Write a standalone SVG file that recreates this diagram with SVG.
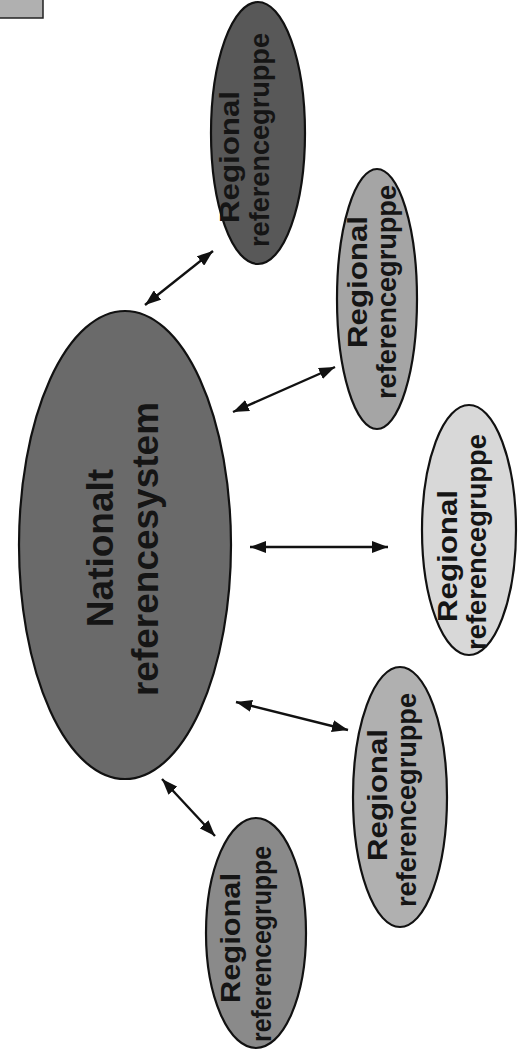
<svg xmlns="http://www.w3.org/2000/svg" width="527" height="1057" viewBox="0 0 527 1057">
<style>
.node ellipse{stroke:#111;stroke-width:2.2}
.big{font-family:"Liberation Sans",Arial,sans-serif;font-weight:bold;font-size:37px;fill:#151515;text-anchor:middle}
.lbl{font-family:"Liberation Sans",Arial,sans-serif;font-weight:bold;font-size:27px;fill:#151515;text-anchor:middle}
.conn line{stroke:#111;stroke-width:2.4;marker-start:url(#ah);marker-end:url(#ah)}
</style>
<defs>
<marker id="ah" viewBox="0 0 16 12" refX="16" refY="6" markerWidth="16" markerHeight="12" markerUnits="userSpaceOnUse" orient="auto-start-reverse">
<path d="M0,0 L16,6 L0,12 z" fill="#111"/>
</marker>
</defs>
<rect width="527" height="1057" fill="#fff"/>
<rect id="corner" x="-1" y="-1" width="44" height="19" fill="#b0b0b0" stroke="#222" stroke-width="1.5"/>
<g id="national" class="node">
<ellipse cx="125" cy="545" rx="106" ry="234" fill="#6a6a6a"/>
<text class="big" transform="translate(113,548) rotate(-90)">Nationalt</text>
<text class="big" transform="translate(158,549) rotate(-90)">referencesystem</text>
</g>
<g id="regional1" class="node">
<ellipse cx="258" cy="133" rx="47" ry="131" fill="#585858"/>
<text class="lbl" transform="translate(239,157) rotate(-90)" textLength="132" lengthAdjust="spacingAndGlyphs">Regional</text>
<text class="lbl" transform="translate(269,140) rotate(-90)" textLength="214" lengthAdjust="spacingAndGlyphs">referencegruppe</text>
</g>
<g id="regional2" class="node">
<ellipse cx="377" cy="299" rx="40" ry="130" fill="#a5a5a5"/>
<text class="lbl" transform="translate(367,282) rotate(-90)" textLength="132" lengthAdjust="spacingAndGlyphs">Regional</text>
<text class="lbl" transform="translate(396,292) rotate(-90)" textLength="214" lengthAdjust="spacingAndGlyphs">referencegruppe</text>
</g>
<g id="regional3" class="node">
<ellipse cx="469" cy="530" rx="47" ry="125" fill="#d8d8d8"/>
<text class="lbl" transform="translate(457,556) rotate(-90)" textLength="132" lengthAdjust="spacingAndGlyphs">Regional</text>
<text class="lbl" transform="translate(486,542) rotate(-90)" textLength="216" lengthAdjust="spacingAndGlyphs">referencegruppe</text>
</g>
<g id="regional4" class="node">
<ellipse cx="400" cy="797" rx="47" ry="130" fill="#b0b0b0"/>
<text class="lbl" transform="translate(387,795) rotate(-90)" textLength="132" lengthAdjust="spacingAndGlyphs">Regional</text>
<text class="lbl" transform="translate(416,800) rotate(-90)" textLength="214" lengthAdjust="spacingAndGlyphs">referencegruppe</text>
</g>
<g id="regional5" class="node">
<ellipse cx="256" cy="933" rx="50" ry="115" fill="#8a8a8a"/>
<text class="lbl" transform="translate(240,938) rotate(-90)" textLength="130" lengthAdjust="spacingAndGlyphs">Regional</text>
<text class="lbl" transform="translate(271,944) rotate(-90)" textLength="196" lengthAdjust="spacingAndGlyphs">referencegruppe</text>
</g>
<g id="connectors" class="conn">
<line x1="145" y1="305" x2="213" y2="251"/>
<line x1="233" y1="412" x2="335" y2="367"/>
<line x1="250" y1="547" x2="388" y2="547"/>
<line x1="236" y1="702" x2="348" y2="730"/>
<line x1="162" y1="779" x2="215" y2="836"/>
</g>
</svg>
